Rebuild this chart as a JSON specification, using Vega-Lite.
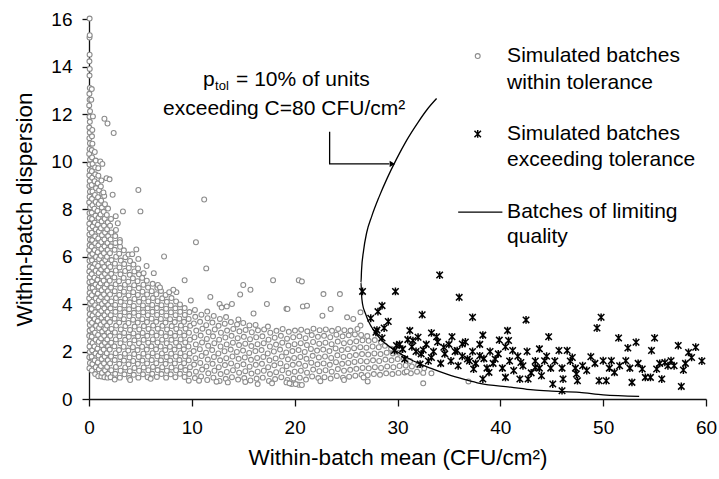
{
"$schema":"https://vega.github.io/schema/vega-lite/v6.json",
"width":617,"height":380,
"autosize":{"type":"none"},
"padding":{"left":89,"top":19,"right":13,"bottom":80},
"background":"white",
"config":{"view":{"stroke":null},"font":"Liberation Sans",
"axis":{"grid":false,"domainColor":"#111","domainWidth":1.3,"tickColor":"#111","tickWidth":1.3,"tickSize":7,"labelFont":"Liberation Sans","labelFontSize":19,"labelColor":"#000","titleFont":"Liberation Sans","titleFontSize":22.5,"titleFontWeight":"normal","titleColor":"#000","labelFlush":false,"labelOverlap":false,"labelBound":false}},
"datasets":{
"gray":[
{"x":0.04,"y":1.3},{"x":0.09,"y":1.52},{"x":0.03,"y":1.76},{"x":0.07,"y":1.98},{"x":0.05,"y":2.21},{"x":0.1,"y":2.43},{"x":0.02,"y":2.66},{"x":0.06,"y":2.88},{"x":0.08,"y":3.12},{"x":0.03,"y":3.33},{"x":0.07,"y":3.57},{"x":0.05,"y":3.79},{"x":0.1,"y":4.02},{"x":0.02,"y":4.24},{"x":0.06,"y":4.47},{"x":0.09,"y":4.68},{"x":0.04,"y":4.92},{"x":0.07,"y":5.13},{"x":0.03,"y":5.37},{"x":0.08,"y":5.58},{"x":0.05,"y":5.82},{"x":0.1,"y":6.03},{"x":0.02,"y":6.27},{"x":0.06,"y":6.48},{"x":0.09,"y":6.72},{"x":0.04,"y":6.93},{"x":0.07,"y":7.17},{"x":0.03,"y":7.38},{"x":0.08,"y":7.62},{"x":0.05,"y":7.83},{"x":0.1,"y":8.07},{"x":0.02,"y":8.28},{"x":0.06,"y":8.52},{"x":0.09,"y":8.73},{"x":0.04,"y":8.97},{"x":0.07,"y":9.18},{"x":0.03,"y":9.42},{"x":0.08,"y":9.63},{"x":0.05,"y":9.87},{"x":0.1,"y":10.08},{"x":0.02,"y":10.32},{"x":0.06,"y":10.53},{"x":0.09,"y":10.77},{"x":0.04,"y":10.98},{"x":0.07,"y":11.22},{"x":0.03,"y":11.43},{"x":0.08,"y":11.67},{"x":0.05,"y":11.88},{"x":0.1,"y":12.12},{"x":0.02,"y":12.36},{"x":0.06,"y":12.6},{"x":0.04,"y":12.85},{"x":0.08,"y":13.1},{"x":0.05,"y":13.62},{"x":0.07,"y":13.9},{"x":0.04,"y":14.22},{"x":0.06,"y":14.5},{"x":0.05,"y":15.22},{"x":0.07,"y":15.32},{"x":0.06,"y":16.02},
{"x":0.28,"y":1.2},{"x":0.33,"y":1.47},{"x":0.26,"y":1.78},{"x":0.31,"y":2.05},{"x":0.35,"y":2.36},{"x":0.27,"y":2.63},{"x":0.32,"y":2.94},{"x":0.29,"y":3.21},{"x":0.34,"y":3.52},{"x":0.26,"y":3.79},{"x":0.31,"y":4.1},{"x":0.28,"y":4.37},{"x":0.35,"y":4.68},{"x":0.3,"y":4.95},{"x":0.27,"y":5.26},{"x":0.33,"y":5.53},{"x":0.29,"y":5.84},{"x":0.34,"y":6.11},{"x":0.26,"y":6.42},{"x":0.31,"y":6.69},{"x":0.28,"y":7.0},{"x":0.35,"y":7.27},{"x":0.3,"y":7.58},{"x":0.27,"y":7.85},{"x":0.33,"y":8.16},{"x":0.29,"y":8.43},{"x":0.34,"y":8.74},{"x":0.26,"y":9.01},{"x":0.31,"y":9.32},{"x":0.28,"y":9.59},{"x":0.35,"y":9.9},{"x":0.3,"y":10.17},{"x":0.27,"y":10.48},{"x":0.33,"y":10.75},{"x":0.29,"y":11.06},{"x":0.32,"y":11.33},{"x":0.38,"y":11.9},{"x":0.27,"y":13.05},{"x":0.22,"y":12.6},
{"x":0.6,"y":1.05},{"x":0.66,"y":1.34},{"x":0.56,"y":1.63},{"x":0.63,"y":1.92},{"x":0.53,"y":2.21},{"x":0.65,"y":2.5},{"x":0.58,"y":2.79},{"x":0.68,"y":3.08},{"x":0.55,"y":3.37},{"x":0.61,"y":3.66},{"x":0.6,"y":3.95},{"x":0.66,"y":4.24},{"x":0.56,"y":4.53},{"x":0.63,"y":4.82},{"x":0.53,"y":5.11},{"x":0.65,"y":5.4},{"x":0.58,"y":5.69},{"x":0.68,"y":5.98},{"x":0.55,"y":6.27},{"x":0.61,"y":6.56},{"x":0.6,"y":6.85},{"x":0.66,"y":7.14},{"x":0.56,"y":7.43},{"x":0.63,"y":7.72},{"x":0.53,"y":8.01},{"x":0.65,"y":8.3},{"x":0.58,"y":8.59},{"x":0.68,"y":8.88},{"x":0.55,"y":9.17},{"x":0.61,"y":9.46},{"x":0.6,"y":9.75},{"x":0.66,"y":10.04},{"x":0.56,"y":10.4},
{"x":0.9,"y":0.96},{"x":0.96,"y":1.25},{"x":0.86,"y":1.54},{"x":0.93,"y":1.83},{"x":0.83,"y":2.12},{"x":0.95,"y":2.41},{"x":0.88,"y":2.7},{"x":0.98,"y":2.99},{"x":0.85,"y":3.28},{"x":0.91,"y":3.57},{"x":0.9,"y":3.86},{"x":0.96,"y":4.15},{"x":0.86,"y":4.44},{"x":0.93,"y":4.73},{"x":0.83,"y":5.02},{"x":0.95,"y":5.31},{"x":0.88,"y":5.6},{"x":0.98,"y":5.89},{"x":0.85,"y":6.18},{"x":0.91,"y":6.47},{"x":0.9,"y":6.76},{"x":0.96,"y":7.05},{"x":0.86,"y":7.34},{"x":0.93,"y":7.63},{"x":0.83,"y":7.92},{"x":0.95,"y":8.21},{"x":0.88,"y":8.5},{"x":0.98,"y":8.79},{"x":0.85,"y":9.08},{"x":0.91,"y":9.4},{"x":0.9,"y":9.72},
{"x":1.2,"y":0.95},{"x":1.26,"y":1.1},{"x":1.16,"y":1.39},{"x":1.23,"y":1.68},{"x":1.13,"y":1.97},{"x":1.25,"y":2.26},{"x":1.18,"y":2.55},{"x":1.28,"y":2.84},{"x":1.15,"y":3.13},{"x":1.21,"y":3.42},{"x":1.2,"y":3.71},{"x":1.26,"y":4.0},{"x":1.16,"y":4.29},{"x":1.23,"y":4.58},{"x":1.13,"y":4.87},{"x":1.25,"y":5.16},{"x":1.18,"y":5.45},{"x":1.28,"y":5.74},{"x":1.15,"y":6.03},{"x":1.21,"y":6.32},{"x":1.2,"y":6.61},{"x":1.26,"y":6.9},{"x":1.16,"y":7.19},{"x":1.23,"y":7.48},{"x":1.13,"y":7.77},{"x":1.25,"y":8.06},{"x":1.18,"y":8.35},{"x":1.28,"y":8.64},{"x":1.15,"y":8.95},{"x":1.21,"y":9.2},
{"x":1.5,"y":0.92},{"x":1.56,"y":1.21},{"x":1.46,"y":1.5},{"x":1.53,"y":1.79},{"x":1.43,"y":2.08},{"x":1.55,"y":2.37},{"x":1.48,"y":2.66},{"x":1.58,"y":2.95},{"x":1.45,"y":3.24},{"x":1.51,"y":3.53},{"x":1.5,"y":3.82},{"x":1.56,"y":4.11},{"x":1.46,"y":4.4},{"x":1.53,"y":4.69},{"x":1.43,"y":4.98},{"x":1.55,"y":5.27},{"x":1.48,"y":5.56},{"x":1.58,"y":5.85},{"x":1.45,"y":6.14},{"x":1.51,"y":6.43},{"x":1.5,"y":6.72},{"x":1.56,"y":7.01},{"x":1.46,"y":7.3},{"x":1.53,"y":7.59},{"x":1.43,"y":7.88},{"x":1.55,"y":8.2},{"x":1.48,"y":8.55},
{"x":1.8,"y":0.9},{"x":1.86,"y":1.06},{"x":1.76,"y":1.35},{"x":1.83,"y":1.64},{"x":1.73,"y":1.93},{"x":1.85,"y":2.22},{"x":1.78,"y":2.51},{"x":1.88,"y":2.8},{"x":1.75,"y":3.09},{"x":1.81,"y":3.38},{"x":1.8,"y":3.67},{"x":1.86,"y":3.96},{"x":1.76,"y":4.25},{"x":1.83,"y":4.54},{"x":1.73,"y":4.83},{"x":1.85,"y":5.12},{"x":1.78,"y":5.41},{"x":1.88,"y":5.7},{"x":1.75,"y":5.99},{"x":1.81,"y":6.28},{"x":1.8,"y":6.57},{"x":1.86,"y":6.86},{"x":1.76,"y":7.15},{"x":1.83,"y":7.44},{"x":1.73,"y":7.75},{"x":1.85,"y":8.02},
{"x":2.1,"y":0.92},{"x":2.17,"y":1.21},{"x":2.05,"y":1.5},{"x":2.14,"y":1.79},{"x":2.02,"y":2.08},{"x":2.16,"y":2.37},{"x":2.07,"y":2.66},{"x":2.19,"y":2.95},{"x":2.04,"y":3.24},{"x":2.12,"y":3.53},{"x":2.1,"y":3.82},{"x":2.17,"y":4.11},{"x":2.05,"y":4.4},{"x":2.14,"y":4.69},{"x":2.02,"y":4.98},{"x":2.16,"y":5.27},{"x":2.07,"y":5.56},{"x":2.19,"y":5.85},{"x":2.04,"y":6.14},{"x":2.12,"y":6.43},{"x":2.1,"y":6.72},{"x":2.17,"y":7.01},{"x":2.05,"y":7.3},{"x":2.14,"y":7.58},
{"x":2.55,"y":1.06},{"x":2.62,"y":1.35},{"x":2.5,"y":1.64},{"x":2.59,"y":1.93},{"x":2.47,"y":2.22},{"x":2.61,"y":2.51},{"x":2.52,"y":2.8},{"x":2.64,"y":3.09},{"x":2.49,"y":3.38},{"x":2.57,"y":3.67},{"x":2.55,"y":3.96},{"x":2.62,"y":4.25},{"x":2.5,"y":4.54},{"x":2.59,"y":4.83},{"x":2.47,"y":5.12},{"x":2.61,"y":5.41},{"x":2.52,"y":5.7},{"x":2.64,"y":5.99},{"x":2.49,"y":6.28},{"x":2.57,"y":6.57},{"x":2.55,"y":6.86},{"x":2.62,"y":7.12},
{"x":3.0,"y":0.9},{"x":3.07,"y":1.19},{"x":2.95,"y":1.48},{"x":3.04,"y":1.77},{"x":2.92,"y":2.06},{"x":3.06,"y":2.35},{"x":2.97,"y":2.64},{"x":3.09,"y":2.93},{"x":2.94,"y":3.22},{"x":3.02,"y":3.51},{"x":3.0,"y":3.8},{"x":3.07,"y":4.09},{"x":2.95,"y":4.38},{"x":3.04,"y":4.67},{"x":2.92,"y":4.96},{"x":3.06,"y":5.25},{"x":2.97,"y":5.54},{"x":3.09,"y":5.83},{"x":2.94,"y":6.12},{"x":3.02,"y":6.41},{"x":3.0,"y":6.7},
{"x":3.45,"y":1.04},{"x":3.52,"y":1.33},{"x":3.4,"y":1.62},{"x":3.49,"y":1.91},{"x":3.37,"y":2.2},{"x":3.51,"y":2.49},{"x":3.42,"y":2.78},{"x":3.54,"y":3.07},{"x":3.39,"y":3.36},{"x":3.47,"y":3.65},{"x":3.45,"y":3.94},{"x":3.52,"y":4.23},{"x":3.4,"y":4.52},{"x":3.49,"y":4.81},{"x":3.37,"y":5.1},{"x":3.51,"y":5.39},{"x":3.42,"y":5.68},{"x":3.54,"y":5.97},{"x":3.39,"y":6.26},
{"x":3.9,"y":0.88},{"x":3.97,"y":1.17},{"x":3.85,"y":1.46},{"x":3.94,"y":1.75},{"x":3.82,"y":2.04},{"x":3.96,"y":2.33},{"x":3.87,"y":2.62},{"x":3.99,"y":2.91},{"x":3.84,"y":3.2},{"x":3.92,"y":3.49},{"x":3.9,"y":3.78},{"x":3.97,"y":4.07},{"x":3.85,"y":4.36},{"x":3.94,"y":4.65},{"x":3.82,"y":4.94},{"x":3.96,"y":5.23},{"x":3.87,"y":5.52},{"x":3.99,"y":5.81},{"x":3.84,"y":6.08},
{"x":4.35,"y":1.02},{"x":4.42,"y":1.31},{"x":4.3,"y":1.6},{"x":4.39,"y":1.89},{"x":4.27,"y":2.18},{"x":4.41,"y":2.47},{"x":4.32,"y":2.76},{"x":4.44,"y":3.05},{"x":4.29,"y":3.34},{"x":4.37,"y":3.63},{"x":4.35,"y":3.92},{"x":4.42,"y":4.21},{"x":4.3,"y":4.5},{"x":4.39,"y":4.79},{"x":4.27,"y":5.08},{"x":4.41,"y":5.37},{"x":4.32,"y":5.66},
{"x":4.8,"y":0.9},{"x":4.87,"y":1.19},{"x":4.75,"y":1.48},{"x":4.84,"y":1.77},{"x":4.72,"y":2.06},{"x":4.86,"y":2.35},{"x":4.77,"y":2.64},{"x":4.89,"y":2.93},{"x":4.74,"y":3.22},{"x":4.82,"y":3.51},{"x":4.8,"y":3.8},{"x":4.87,"y":4.09},{"x":4.75,"y":4.38},{"x":4.84,"y":4.67},{"x":4.72,"y":4.96},{"x":4.86,"y":5.25},{"x":4.77,"y":5.5},
{"x":5.25,"y":1.04},{"x":5.32,"y":1.33},{"x":5.2,"y":1.62},{"x":5.29,"y":1.91},{"x":5.17,"y":2.2},{"x":5.31,"y":2.49},{"x":5.22,"y":2.78},{"x":5.34,"y":3.07},{"x":5.19,"y":3.36},{"x":5.27,"y":3.65},{"x":5.25,"y":3.94},{"x":5.32,"y":4.23},{"x":5.2,"y":4.52},{"x":5.29,"y":4.81},{"x":5.17,"y":5.1},{"x":5.31,"y":5.3},
{"x":5.7,"y":0.92},{"x":5.77,"y":1.21},{"x":5.65,"y":1.5},{"x":5.74,"y":1.79},{"x":5.62,"y":2.08},{"x":5.76,"y":2.37},{"x":5.67,"y":2.66},{"x":5.79,"y":2.95},{"x":5.64,"y":3.24},{"x":5.72,"y":3.53},{"x":5.7,"y":3.82},{"x":5.77,"y":4.11},{"x":5.65,"y":4.4},{"x":5.74,"y":4.69},{"x":5.62,"y":4.98},
{"x":6.15,"y":1.06},{"x":6.22,"y":1.35},{"x":6.1,"y":1.64},{"x":6.19,"y":1.93},{"x":6.07,"y":2.22},{"x":6.21,"y":2.51},{"x":6.12,"y":2.8},{"x":6.24,"y":3.09},{"x":6.09,"y":3.38},{"x":6.17,"y":3.67},{"x":6.15,"y":3.96},{"x":6.22,"y":4.25},{"x":6.1,"y":4.54},{"x":6.19,"y":4.85},
{"x":6.6,"y":0.93},{"x":6.67,"y":1.22},{"x":6.55,"y":1.51},{"x":6.64,"y":1.8},{"x":6.52,"y":2.09},{"x":6.66,"y":2.38},{"x":6.57,"y":2.67},{"x":6.69,"y":2.96},{"x":6.54,"y":3.25},{"x":6.62,"y":3.54},{"x":6.6,"y":3.83},{"x":6.67,"y":4.12},{"x":6.55,"y":4.41},{"x":6.64,"y":4.68},
{"x":7.05,"y":1.05},{"x":7.12,"y":1.34},{"x":7.0,"y":1.63},{"x":7.09,"y":1.92},{"x":6.97,"y":2.21},{"x":7.11,"y":2.5},{"x":7.02,"y":2.79},{"x":7.14,"y":3.08},{"x":6.99,"y":3.37},{"x":7.07,"y":3.66},{"x":7.05,"y":3.95},{"x":7.12,"y":4.24},{"x":7.0,"y":4.55},
{"x":7.5,"y":0.9},{"x":7.57,"y":1.19},{"x":7.45,"y":1.48},{"x":7.54,"y":1.77},{"x":7.42,"y":2.06},{"x":7.56,"y":2.35},{"x":7.47,"y":2.64},{"x":7.59,"y":2.93},{"x":7.44,"y":3.22},{"x":7.52,"y":3.51},{"x":7.5,"y":3.8},{"x":7.57,"y":4.09},{"x":7.45,"y":4.38},
{"x":7.95,"y":1.04},{"x":8.02,"y":1.33},{"x":7.9,"y":1.62},{"x":7.99,"y":1.91},{"x":7.87,"y":2.2},{"x":8.01,"y":2.49},{"x":7.92,"y":2.78},{"x":8.04,"y":3.07},{"x":7.89,"y":3.36},{"x":7.97,"y":3.65},{"x":7.95,"y":3.94},{"x":8.02,"y":4.25},
{"x":8.4,"y":0.92},{"x":8.47,"y":1.21},{"x":8.35,"y":1.5},{"x":8.44,"y":1.79},{"x":8.32,"y":2.08},{"x":8.46,"y":2.37},{"x":8.37,"y":2.66},{"x":8.49,"y":2.95},{"x":8.34,"y":3.24},{"x":8.42,"y":3.53},{"x":8.4,"y":3.82},{"x":8.47,"y":4.11},
{"x":8.85,"y":1.06},{"x":8.92,"y":1.35},{"x":8.8,"y":1.64},{"x":8.89,"y":1.93},{"x":8.77,"y":2.22},{"x":8.91,"y":2.51},{"x":8.82,"y":2.8},{"x":8.94,"y":3.09},{"x":8.79,"y":3.38},{"x":8.87,"y":3.67},{"x":8.85,"y":3.98},
{"x":9.3,"y":0.93},{"x":9.37,"y":1.22},{"x":9.25,"y":1.51},{"x":9.34,"y":1.8},{"x":9.22,"y":2.09},{"x":9.36,"y":2.38},{"x":9.27,"y":2.67},{"x":9.39,"y":2.96},{"x":9.24,"y":3.25},{"x":9.32,"y":3.54},{"x":9.3,"y":3.83},
{"x":9.75,"y":1.05},{"x":9.82,"y":1.34},{"x":9.7,"y":1.63},{"x":9.79,"y":1.92},{"x":9.67,"y":2.21},{"x":9.81,"y":2.5},{"x":9.72,"y":2.79},{"x":9.84,"y":3.08},{"x":9.69,"y":3.37},{"x":9.77,"y":3.66},
{"x":10.3,"y":0.88},{"x":10.4,"y":1.15},{"x":10.22,"y":1.45},{"x":10.35,"y":1.72},{"x":10.18,"y":2.02},{"x":10.39,"y":2.3},{"x":10.26,"y":2.6},{"x":10.43,"y":2.88},{"x":10.2,"y":3.18},{"x":10.33,"y":3.46},{"x":10.3,"y":3.75},
{"x":10.9,"y":0.95},{"x":11.0,"y":1.24},{"x":10.82,"y":1.52},{"x":10.95,"y":1.81},{"x":10.78,"y":2.1},{"x":10.99,"y":2.38},{"x":10.86,"y":2.67},{"x":11.03,"y":2.96},{"x":10.8,"y":3.25},{"x":10.93,"y":3.55},
{"x":11.5,"y":0.8},{"x":11.6,"y":1.08},{"x":11.42,"y":1.37},{"x":11.55,"y":1.66},{"x":11.38,"y":1.95},{"x":11.59,"y":2.24},{"x":11.46,"y":2.53},{"x":11.63,"y":2.82},{"x":11.4,"y":3.11},{"x":11.53,"y":3.4},{"x":11.5,"y":3.68},
{"x":12.1,"y":0.9},{"x":12.2,"y":1.19},{"x":12.02,"y":1.48},{"x":12.15,"y":1.77},{"x":11.98,"y":2.06},{"x":12.19,"y":2.35},{"x":12.06,"y":2.64},{"x":12.23,"y":2.93},{"x":12.0,"y":3.22},{"x":12.13,"y":3.5},
{"x":12.7,"y":0.76},{"x":12.8,"y":1.05},{"x":12.62,"y":1.34},{"x":12.75,"y":1.63},{"x":12.58,"y":1.92},{"x":12.79,"y":2.21},{"x":12.66,"y":2.5},{"x":12.83,"y":2.79},{"x":12.6,"y":3.08},{"x":12.73,"y":3.37},
{"x":13.3,"y":0.85},{"x":13.4,"y":1.14},{"x":13.22,"y":1.43},{"x":13.35,"y":1.72},{"x":13.18,"y":2.01},{"x":13.39,"y":2.3},{"x":13.26,"y":2.59},{"x":13.43,"y":2.88},{"x":13.2,"y":3.17},{"x":13.33,"y":3.45},
{"x":13.9,"y":0.92},{"x":14.0,"y":1.21},{"x":13.82,"y":1.5},{"x":13.95,"y":1.79},{"x":13.78,"y":2.08},{"x":13.99,"y":2.37},{"x":13.86,"y":2.66},{"x":14.03,"y":2.95},{"x":13.8,"y":3.24},
{"x":14.5,"y":0.82},{"x":14.6,"y":1.11},{"x":14.42,"y":1.4},{"x":14.55,"y":1.69},{"x":14.38,"y":1.98},{"x":14.59,"y":2.27},{"x":14.46,"y":2.56},{"x":14.63,"y":2.85},{"x":14.4,"y":3.14},{"x":14.53,"y":3.35},
{"x":15.1,"y":0.88},{"x":15.2,"y":1.17},{"x":15.02,"y":1.46},{"x":15.15,"y":1.75},{"x":14.98,"y":2.04},{"x":15.19,"y":2.33},{"x":15.06,"y":2.62},{"x":15.23,"y":2.91},{"x":15.0,"y":3.2},
{"x":15.7,"y":0.78},{"x":15.8,"y":1.07},{"x":15.62,"y":1.36},{"x":15.75,"y":1.65},{"x":15.58,"y":1.94},{"x":15.79,"y":2.23},{"x":15.66,"y":2.52},{"x":15.83,"y":2.81},{"x":15.6,"y":3.1},
{"x":16.3,"y":0.86},{"x":16.4,"y":1.15},{"x":16.22,"y":1.44},{"x":16.35,"y":1.73},{"x":16.18,"y":2.02},{"x":16.39,"y":2.31},{"x":16.26,"y":2.6},{"x":16.43,"y":2.89},{"x":16.2,"y":3.12},
{"x":16.9,"y":0.9},{"x":17.0,"y":1.19},{"x":16.82,"y":1.48},{"x":16.95,"y":1.77},{"x":16.78,"y":2.06},{"x":16.99,"y":2.35},{"x":16.86,"y":2.64},{"x":17.03,"y":2.93},
{"x":17.5,"y":0.76},{"x":17.6,"y":1.05},{"x":17.42,"y":1.34},{"x":17.55,"y":1.63},{"x":17.38,"y":1.92},{"x":17.59,"y":2.21},{"x":17.46,"y":2.5},{"x":17.63,"y":2.79},{"x":17.4,"y":3.05},
{"x":18.1,"y":0.84},{"x":18.2,"y":1.13},{"x":18.02,"y":1.42},{"x":18.15,"y":1.71},{"x":17.98,"y":2.0},{"x":18.19,"y":2.29},{"x":18.06,"y":2.58},{"x":18.23,"y":2.87},
{"x":18.7,"y":0.92},{"x":18.8,"y":1.21},{"x":18.62,"y":1.5},{"x":18.75,"y":1.79},{"x":18.58,"y":2.08},{"x":18.79,"y":2.37},{"x":18.66,"y":2.66},{"x":18.83,"y":2.95},
{"x":19.3,"y":0.8},{"x":19.4,"y":1.09},{"x":19.22,"y":1.38},{"x":19.35,"y":1.67},{"x":19.18,"y":1.96},{"x":19.39,"y":2.25},{"x":19.26,"y":2.54},{"x":19.43,"y":2.83},
{"x":19.9,"y":0.86},{"x":20.0,"y":1.15},{"x":19.82,"y":1.44},{"x":19.95,"y":1.73},{"x":19.78,"y":2.02},{"x":19.99,"y":2.31},{"x":19.86,"y":2.6},{"x":20.03,"y":2.88},
{"x":20.5,"y":0.9},{"x":20.6,"y":1.19},{"x":20.42,"y":1.48},{"x":20.55,"y":1.77},{"x":20.38,"y":2.06},{"x":20.59,"y":2.35},{"x":20.46,"y":2.64},{"x":20.63,"y":2.92},
{"x":21.1,"y":0.82},{"x":21.2,"y":1.11},{"x":21.02,"y":1.4},{"x":21.15,"y":1.69},{"x":20.98,"y":1.98},{"x":21.19,"y":2.27},{"x":21.06,"y":2.56},{"x":21.23,"y":2.85},
{"x":21.7,"y":0.95},{"x":21.8,"y":1.24},{"x":21.62,"y":1.53},{"x":21.75,"y":1.82},{"x":21.58,"y":2.11},{"x":21.79,"y":2.4},{"x":21.66,"y":2.69},{"x":21.83,"y":2.96},
{"x":22.3,"y":0.88},{"x":22.4,"y":1.17},{"x":22.22,"y":1.46},{"x":22.35,"y":1.75},{"x":22.18,"y":2.04},{"x":22.39,"y":2.33},{"x":22.26,"y":2.62},{"x":22.43,"y":2.9},
{"x":22.9,"y":0.92},{"x":23.0,"y":1.21},{"x":22.82,"y":1.5},{"x":22.95,"y":1.79},{"x":22.78,"y":2.08},{"x":22.99,"y":2.37},{"x":22.86,"y":2.66},{"x":23.03,"y":2.93},
{"x":23.5,"y":0.86},{"x":23.6,"y":1.15},{"x":23.42,"y":1.44},{"x":23.55,"y":1.73},{"x":23.38,"y":2.02},{"x":23.59,"y":2.31},{"x":23.46,"y":2.6},{"x":23.63,"y":2.87},
{"x":24.1,"y":0.97},{"x":24.2,"y":1.26},{"x":24.02,"y":1.55},{"x":24.15,"y":1.84},{"x":23.98,"y":2.13},{"x":24.19,"y":2.42},{"x":24.06,"y":2.71},{"x":24.23,"y":2.95},
{"x":24.7,"y":0.9},{"x":24.8,"y":1.19},{"x":24.62,"y":1.48},{"x":24.75,"y":1.77},{"x":24.58,"y":2.06},{"x":24.79,"y":2.35},{"x":24.66,"y":2.64},{"x":24.83,"y":2.9},
{"x":25.3,"y":0.94},{"x":25.4,"y":1.23},{"x":25.22,"y":1.52},{"x":25.35,"y":1.81},{"x":25.18,"y":2.1},{"x":25.39,"y":2.39},{"x":25.26,"y":2.68},{"x":25.43,"y":2.88},
{"x":25.9,"y":0.98},{"x":26.0,"y":1.27},{"x":25.82,"y":1.56},{"x":25.95,"y":1.85},{"x":25.78,"y":2.14},{"x":25.99,"y":2.43},{"x":25.86,"y":2.72},
{"x":26.5,"y":1.02},{"x":26.6,"y":1.31},{"x":26.42,"y":1.6},{"x":26.55,"y":1.89},{"x":26.38,"y":2.18},{"x":26.59,"y":2.47},{"x":26.46,"y":2.7},
{"x":27.1,"y":1.0},{"x":27.2,"y":1.29},{"x":27.02,"y":1.58},{"x":27.15,"y":1.87},{"x":26.98,"y":2.16},{"x":27.19,"y":2.45},{"x":27.06,"y":2.65},
{"x":27.7,"y":1.05},{"x":27.8,"y":1.34},{"x":27.62,"y":1.63},{"x":27.75,"y":1.92},{"x":27.58,"y":2.21},{"x":27.79,"y":2.48},
{"x":28.3,"y":1.02},{"x":28.4,"y":1.31},{"x":28.22,"y":1.6},{"x":28.35,"y":1.89},{"x":28.18,"y":2.18},{"x":28.39,"y":2.4},
{"x":28.9,"y":1.08},{"x":29.0,"y":1.37},{"x":28.82,"y":1.66},{"x":28.95,"y":1.95},{"x":28.78,"y":2.24},
{"x":29.5,"y":1.05},{"x":29.6,"y":1.34},{"x":29.42,"y":1.63},{"x":29.55,"y":1.92},{"x":29.38,"y":2.12},
{"x":30.1,"y":1.1},{"x":30.2,"y":1.39},{"x":30.02,"y":1.68},{"x":30.15,"y":1.95},
{"x":30.7,"y":1.12},{"x":30.8,"y":1.41},{"x":30.62,"y":1.72},
{"x":31.3,"y":1.08},{"x":31.4,"y":1.37},{"x":31.22,"y":1.6},
{"x":31.9,"y":1.15},{"x":32.0,"y":1.42},{"x":32.5,"y":1.1},{"x":32.6,"y":1.3},
{"x":1.5,"y":11.8},{"x":1.8,"y":11.6},{"x":2.4,"y":11.2},{"x":1.1,"y":10.0},{"x":1.3,"y":9.9},{"x":1.7,"y":9.3},{"x":2.0,"y":9.25},{"x":1.4,"y":8.7},{"x":2.3,"y":8.6},{"x":2.6,"y":7.7},{"x":2.8,"y":7.4},{"x":3.3,"y":7.9},{"x":4.8,"y":8.8},{"x":5.0,"y":7.9},{"x":3.0,"y":6.6},{"x":4.2,"y":6.1},{"x":4.6,"y":6.3},{"x":4.8,"y":5.9},{"x":5.6,"y":5.6},{"x":7.3,"y":6.0},{"x":10.4,"y":6.6},{"x":11.2,"y":8.4},{"x":11.4,"y":5.5},{"x":9.3,"y":5.0},{"x":6.7,"y":4.8},{"x":6.9,"y":4.7},{"x":7.8,"y":4.5},{"x":8.5,"y":4.5},{"x":11.8,"y":4.3},{"x":12.7,"y":4.0},{"x":13.9,"y":4.0},{"x":14.7,"y":4.4},{"x":15.0,"y":4.8},{"x":15.7,"y":4.6},{"x":17.3,"y":4.0},{"x":17.9,"y":5.0},{"x":19.2,"y":3.8},{"x":20.4,"y":5.0},{"x":20.8,"y":3.9},{"x":20.7,"y":4.95},{"x":22.8,"y":4.42},{"x":24.4,"y":4.42},{"x":23.5,"y":3.79},{"x":21.2,"y":3.93},{"x":19.3,"y":3.79},{"x":22.7,"y":3.51},{"x":26.4,"y":3.65},{"x":25.1,"y":3.44},{"x":25.7,"y":3.37},{"x":26.4,"y":3.09},{"x":26.1,"y":2.95},{"x":12.9,"y":3.85},{"x":13.4,"y":3.9},{"x":16.0,"y":3.6},{"x":9.9,"y":4.15},{"x":8.2,"y":4.6},{"x":6.3,"y":5.3},
{"x":16.4,"y":0.63},{"x":17.8,"y":0.66},{"x":19.2,"y":0.7},{"x":19.7,"y":0.63},{"x":20.4,"y":0.6},{"x":9.7,"y":0.77},{"x":12.4,"y":0.73},{"x":10.7,"y":0.77},{"x":19.5,"y":0.66},{"x":20.1,"y":0.63},{"x":20.7,"y":0.59},{"x":24.8,"y":0.8},{"x":27.1,"y":0.74},{"x":32.5,"y":0.66},{"x":36.9,"y":0.74},{"x":33.3,"y":1.08},{"x":30.9,"y":1.16},{"x":26.7,"y":0.91},{"x":4.0,"y":0.8},{"x":2.5,"y":0.82},{"x":6.0,"y":0.85},{"x":13.5,"y":0.7},{"x":15.2,"y":0.72},{"x":22.5,"y":0.75}
],
"black":[
{"x":34.1,"y":5.22},{"x":29.8,"y":4.53},{"x":26.6,"y":4.53},{"x":36.0,"y":4.28},{"x":28.5,"y":3.93},{"x":28.1,"y":3.68},{"x":32.4,"y":3.55},{"x":37.3,"y":3.44},{"x":42.5,"y":3.33},{"x":49.8,"y":3.44},{"x":49.4,"y":2.99},{"x":29.1,"y":3.26},{"x":28.7,"y":2.99},{"x":27.9,"y":2.81},{"x":28.5,"y":2.57},{"x":31.2,"y":2.88},{"x":33.3,"y":2.78},{"x":33.8,"y":2.62},{"x":35.3,"y":2.62},{"x":36.3,"y":2.32},{"x":38.3,"y":2.69},{"x":40.7,"y":2.88},{"x":39.9,"y":2.48},{"x":40.8,"y":2.46},{"x":44.7,"y":2.62},{"x":51.5,"y":2.57},{"x":55.0,"y":2.57},{"x":53.2,"y":2.39},{"x":52.4,"y":2.15},{"x":54.7,"y":2.04},{"x":57.3,"y":2.25},{"x":58.3,"y":1.96},{"x":59.0,"y":2.18},{"x":58.6,"y":1.75},{"x":57.8,"y":1.22},{"x":57.6,"y":0.53},{"x":31.5,"y":2.46},{"x":29.9,"y":2.25},{"x":29.7,"y":2.04},{"x":30.7,"y":1.68},{"x":32.5,"y":2.06},{"x":32.2,"y":1.47},{"x":33.3,"y":1.75},{"x":34.5,"y":2.18},{"x":35.8,"y":2.04},{"x":36.8,"y":1.68},{"x":38.0,"y":1.82},{"x":37.4,"y":1.26},{"x":38.3,"y":0.84},{"x":38.9,"y":1.12},{"x":39.5,"y":1.68},{"x":40.5,"y":0.91},{"x":41.2,"y":2.04},{"x":42.0,"y":1.54},{"x":41.9,"y":0.84},{"x":42.7,"y":0.84},{"x":43.4,"y":1.33},{"x":43.8,"y":2.11},{"x":44.3,"y":1.61},{"x":44.0,"y":0.98},{"x":45.1,"y":0.63},{"x":45.7,"y":2.04},{"x":46.0,"y":0.35},{"x":46.1,"y":0.84},{"x":46.5,"y":2.04},{"x":47.0,"y":1.75},{"x":47.4,"y":1.05},{"x":47.5,"y":0.77},{"x":48.0,"y":1.4},{"x":48.8,"y":1.78},{"x":49.6,"y":0.77},{"x":50.3,"y":0.77},{"x":50.0,"y":1.61},{"x":50.8,"y":1.61},{"x":51.1,"y":1.12},{"x":52.2,"y":1.61},{"x":52.8,"y":0.7},{"x":53.8,"y":1.26},{"x":54.1,"y":0.91},{"x":54.6,"y":0.91},{"x":55.7,"y":0.84},{"x":55.2,"y":1.26},{"x":56.0,"y":1.54},{"x":56.6,"y":1.61},{"x":56.9,"y":1.4},
{"x":30.2,"y":2.3},{"x":30.5,"y":2.1},{"x":31.0,"y":2.5},{"x":31.4,"y":2.2},{"x":31.8,"y":2.0},{"x":32.0,"y":2.6},{"x":32.3,"y":1.9},{"x":32.8,"y":2.3},{"x":33.0,"y":1.6},{"x":33.5,"y":2.0},{"x":33.9,"y":2.4},{"x":34.2,"y":1.5},{"x":34.6,"y":1.9},{"x":35.0,"y":2.3},{"x":35.2,"y":1.6},{"x":35.6,"y":2.0},{"x":35.9,"y":1.4},{"x":36.3,"y":1.8},{"x":36.6,"y":2.4},{"x":37.0,"y":1.6},{"x":37.3,"y":2.0},{"x":37.6,"y":1.5},{"x":38.0,"y":2.3},{"x":38.4,"y":1.7},{"x":38.7,"y":1.3},{"x":39.0,"y":2.0},{"x":39.3,"y":1.5},{"x":39.8,"y":1.9},{"x":40.2,"y":1.3},{"x":40.5,"y":2.2},{"x":40.9,"y":1.6},{"x":41.3,"y":1.2},{"x":41.7,"y":1.8},{"x":42.2,"y":1.4},{"x":42.6,"y":2.0},{"x":43.0,"y":1.1},{"x":43.4,"y":1.6},{"x":43.8,"y":1.3},{"x":44.5,"y":1.8},{"x":44.9,"y":1.3},{"x":45.3,"y":1.6},{"x":46.0,"y":1.3},{"x":46.8,"y":1.6},{"x":47.3,"y":1.3},{"x":48.4,"y":1.2},{"x":49.2,"y":1.5},{"x":50.6,"y":1.3},{"x":51.6,"y":1.4},{"x":52.6,"y":1.3},{"x":53.4,"y":1.5},{"x":55.5,"y":1.5},{"x":56.3,"y":1.4},{"x":58.0,"y":1.5},{"x":59.6,"y":1.6},{"x":28.0,"y":2.9},{"x":27.4,"y":3.4}
],
"curve":[
{"x":53.5,"y":0.11},{"x":50,"y":0.17},{"x":47.7,"y":0.28},{"x":45,"y":0.33},{"x":43.2,"y":0.38},{"x":41,"y":0.5},{"x":38,"y":0.66},{"x":36.5,"y":0.83},{"x":34.8,"y":1.05},{"x":33.2,"y":1.3},{"x":31.5,"y":1.61},{"x":30.3,"y":1.9},{"x":29.3,"y":2.18},{"x":28.4,"y":2.5},{"x":27.7,"y":2.88},{"x":27.2,"y":3.25},{"x":26.9,"y":3.58},{"x":26.6,"y":4.0},{"x":26.5,"y":4.42},{"x":26.45,"y":4.9},{"x":26.5,"y":5.4},{"x":26.7,"y":6.25},{"x":27.0,"y":7.0},{"x":27.5,"y":7.7},{"x":28.2,"y":8.5},{"x":29.0,"y":9.3},{"x":29.9,"y":10.1},{"x":30.9,"y":10.9},{"x":32.0,"y":11.65},{"x":32.9,"y":12.2},{"x":33.8,"y":12.65}
]
},
"encoding":{
"x":{"field":"x","type":"quantitative","scale":{"domain":[0,60],"nice":false,"zero":false},"axis":{"title":"Within-batch mean (CFU/cm²)","values":[0,10,20,30,40,50,60],"labelPadding":12,"titlePadding":9}},
"y":{"field":"y","type":"quantitative","scale":{"domain":[0,16],"nice":false,"zero":false},"axis":{"title":"Within-batch dispersion","values":[0,2,4,6,8,10,12,14,16],"labelPadding":10,"titlePadding":14}}
},
"layer":[
{"data":{"name":"gray"},"mark":{"type":"point","shape":"circle","filled":true,"fill":"white","stroke":"#8c8c8c","strokeWidth":1.1,"size":24,"opacity":1}},
{"data":{"name":"black"},"mark":{"type":"point","shape":"M-1,-1L1,1M-1,1L1,-1M0,-1.2L0,1.2","filled":false,"stroke":"#000","strokeWidth":1.5,"size":42,"opacity":1}},
{"data":{"name":"curve"},"mark":{"type":"line","color":"#000","strokeWidth":1.3,"interpolate":"monotone"},"encoding":{"order":{"field":"y","type":"quantitative"}}},
{"data":{"values":[{"x":23.4,"y":11.25,"o":1},{"x":23.4,"y":9.9,"o":2},{"x":29.2,"y":9.9,"o":3}]},"mark":{"type":"line","color":"#000","strokeWidth":1.3},"encoding":{"order":{"field":"o","type":"quantitative"}}},
{"data":{"values":[{"x":29.5,"y":9.9}]},"mark":{"type":"point","shape":"triangle-right","filled":true,"color":"#000","size":40,"opacity":1}},
{"data":{"values":[{"x":11.09,"y":13.43}]},"mark":{"type":"text","text":"p","align":"left","baseline":"middle","fontSize":21,"font":"Liberation Sans","color":"#000"}},
{"data":{"values":[{"x":11.09,"y":13.43}]},"mark":{"type":"text","text":"tol","align":"left","baseline":"middle","fontSize":13,"dx":12,"dy":6,"font":"Liberation Sans","color":"#000"}},
{"data":{"values":[{"x":11.09,"y":13.43}]},"mark":{"type":"text","text":"= 10% of units","align":"left","baseline":"middle","fontSize":21,"dx":33,"font":"Liberation Sans","color":"#000"}},
{"data":{"values":[{"x":7.2,"y":12.2,"t":"exceeding C=80 CFU/cm²"},{"x":40.66,"y":14.44,"t":"Simulated batches"},{"x":40.66,"y":13.3,"t":"within tolerance"},{"x":40.66,"y":11.16,"t":"Simulated batches"},{"x":40.66,"y":10.06,"t":"exceeding tolerance"},{"x":40.66,"y":7.87,"t":"Batches of limiting"},{"x":40.66,"y":6.82,"t":"quality"}]},"mark":{"type":"text","align":"left","baseline":"middle","fontSize":21,"font":"Liberation Sans","color":"#000"},"encoding":{"text":{"field":"t","type":"nominal"}}},
{"data":{"values":[{"x":37.8,"y":14.44}]},"mark":{"type":"point","shape":"circle","filled":true,"fill":"white","stroke":"#8c8c8c","strokeWidth":1.1,"size":24,"opacity":1}},
{"data":{"values":[{"x":37.8,"y":11.16}]},"mark":{"type":"point","shape":"M-1,-1L1,1M-1,1L1,-1M0,-1.2L0,1.2","filled":false,"stroke":"#000","strokeWidth":1.5,"size":42,"opacity":1}},
{"data":{"values":[{"x":35.9,"y":7.87},{"x":40.2,"y":7.87}]},"mark":{"type":"line","color":"#000","strokeWidth":1.3}}
]
}
